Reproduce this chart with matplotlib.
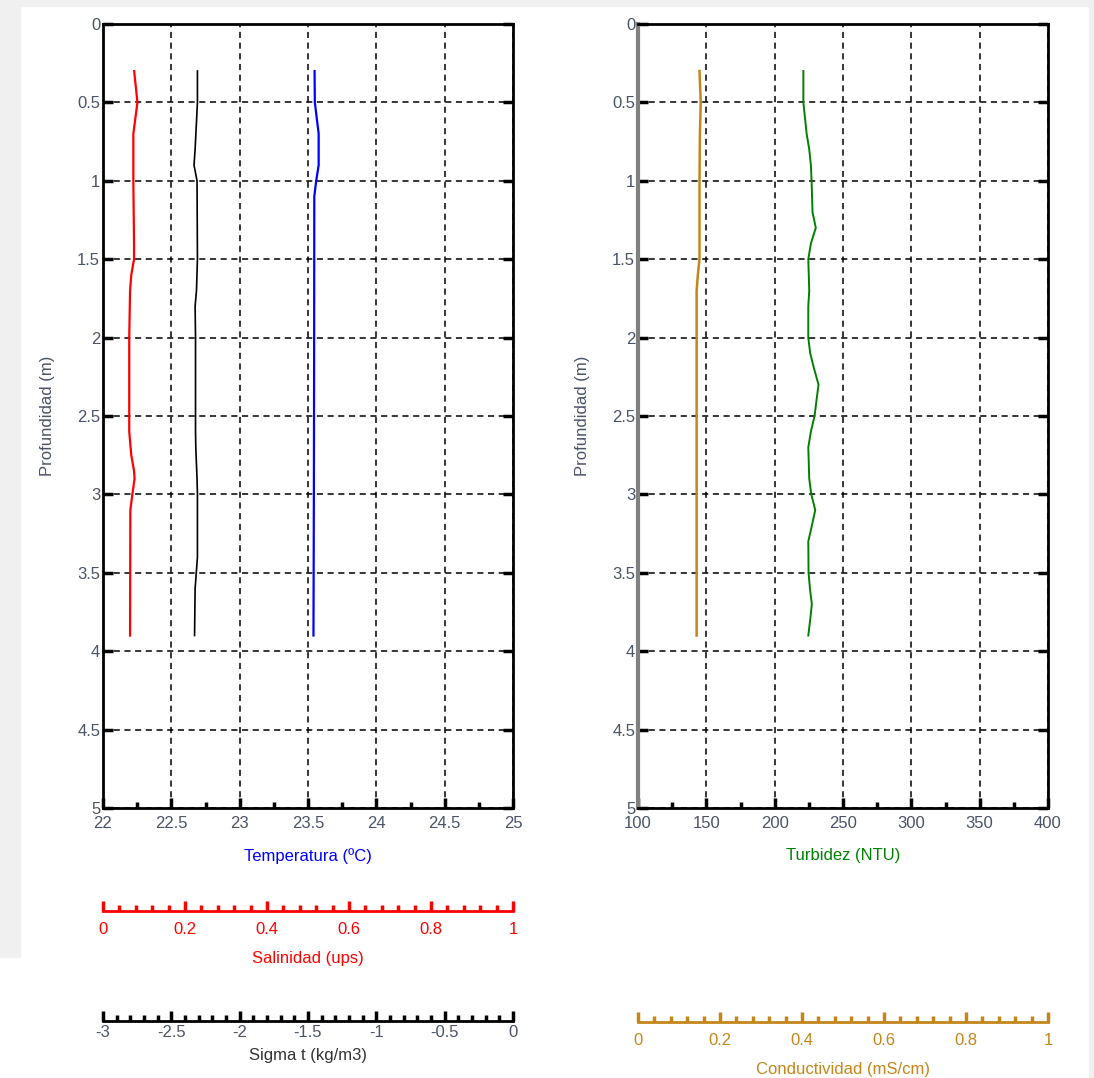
"""
Perfil vertical CTD: temperatura, salinidad, sigma t, turbidez, conductividad
"""
import matplotlib
matplotlib.use("Agg")
import matplotlib.pyplot as plt
from matplotlib.patches import Rectangle
from matplotlib.ticker import MultipleLocator

plt.rcParams['font.family'] = ['Liberation Sans', 'DejaVu Sans']
plt.rcParams['font.size'] = 12

# profundidad (m)
prof_sal = [0.30, 0.40, 0.50, 0.60, 0.70, 1.00, 1.40, 1.50, 1.60, 1.70, 2.00,
            2.60, 2.75, 2.85, 2.90, 3.00, 3.10, 3.90]
salinidad = [0.076, 0.080, 0.084, 0.079, 0.074, 0.074, 0.0757, 0.0757, 0.069, 0.066,
             0.064, 0.064, 0.069, 0.0757, 0.077, 0.0716, 0.0667, 0.066]

prof_sig = [0.30, 0.50, 0.80, 0.90, 1.00, 1.50, 1.70, 1.80, 2.00, 2.60, 2.70,
            2.90, 3.00, 3.40, 3.60, 3.90]
sigma_t = [-2.309, -2.309, -2.326, -2.334, -2.312, -2.309, -2.316, -2.326, -2.323,
           -2.323, -2.321, -2.312, -2.309, -2.309, -2.326, -2.330]

prof_temp = [0.30, 0.50, 0.70, 0.90, 1.00, 1.10, 2.00, 3.00, 3.90]
temperatura = [23.548, 23.550, 23.578, 23.578, 23.56, 23.546, 23.545, 23.543, 23.54]

prof_turb = [0.3, 0.5, 0.7, 0.8, 0.9, 1.0, 1.2, 1.3, 1.4, 1.5, 1.7, 1.8, 2.0, 2.1,
             2.2, 2.3, 2.4, 2.5, 2.6, 2.7, 2.9, 3.0, 3.1, 3.2, 3.3, 3.5, 3.6, 3.7,
             3.8, 3.9]
turbidez = [221.0, 221.0, 223.4, 225.3, 226.5, 227.0, 227.7, 230.1, 226.5, 224.6,
            225.3, 224.6, 224.6, 226.0, 228.9, 232.1, 230.6, 229.2, 226.5, 224.6,
            225.3, 226.8, 229.7, 227.2, 224.6, 224.8, 225.8, 227.2, 226.0, 224.6]

prof_cond = [0.3, 0.5, 0.7, 1.0, 1.5, 1.6, 1.7, 3.9]
conductividad = [0.150, 0.153, 0.151, 0.150, 0.150, 0.146, 0.143, 0.143]

prof_ticks = [0, 0.5, 1, 1.5, 2, 2.5, 3, 3.5, 4, 4.5, 5]
temp_ticks = [22, 22.5, 23, 23.5, 24, 24.5, 25]
turb_ticks = [100, 150, 200, 250, 300, 350, 400]
unit_ticks = [0, 0.2, 0.4, 0.6, 0.8, 1]
sig_ticks = [-3, -2.5, -2, -1.5, -1, -0.5, 0]

TICK_COL = '#4a5468'
ORANGE = '#c4861a'

fig = plt.figure(figsize=(10.94, 10.78), dpi=100)

# light grey border like the screenshot
fig.patches.append(Rectangle((0, 1 - 957 / 1078), 20 / 1094, 957 / 1078,
                             transform=fig.transFigure, color='#f0f0f0', zorder=-10))
fig.patches.append(Rectangle((0, 1 - 6 / 1078), 1, 6 / 1078,
                             transform=fig.transFigure, color='#f0f0f0', zorder=-10))
fig.patches.append(Rectangle((1 - 5 / 1094, 0), 5 / 1094, 1,
                             transform=fig.transFigure, color='#f0f0f0', zorder=-10))


def base_axes(rect, xlim, xticks, xlabel, xcolor):
    ax = fig.add_axes(rect)
    ax.set_xlim(*xlim)
    ax.set_ylim(5, 0)
    ax.set_xticks(xticks)
    ax.set_xticklabels([f"{t:g}" for t in xticks])
    ax.set_yticks(prof_ticks)
    ax.set_yticklabels([f"{t:g}" for t in prof_ticks])
    ax.xaxis.set_minor_locator(MultipleLocator((xticks[1] - xticks[0]) / 2))
    ax.tick_params(which='both', direction='in', top=True, right=True,
                   labelcolor=TICK_COL, labelsize=12)
    ax.tick_params(axis='x', pad=6)
    ax.tick_params(axis='y', pad=2)
    ax.tick_params(which='major', length=7, width=2.5)
    ax.tick_params(which='minor', length=4, width=2.5)
    ax.grid(True, color='black', linestyle=(0, (4, 3)), linewidth=1.1)
    for s in ax.spines.values():
        s.set_linewidth(2)
    ax.set_ylabel('Profundidad (m)', color=TICK_COL, labelpad=16)
    ax.set_xlabel(xlabel, color=xcolor, labelpad=12)
    return ax


def extra_axis(ax, xlim, xticks, offset, color, label, labelcolor, pad=8, labelpad=10):
    tw = ax.twiny()
    tw.set_xlim(*xlim)
    tw.set_ylim(5, 0)
    tw.xaxis.set_ticks_position('bottom')
    tw.xaxis.set_label_position('bottom')
    tw.spines['bottom'].set_position(('outward', offset))
    for side in ('top', 'left', 'right'):
        tw.spines[side].set_visible(False)
    tw.spines['bottom'].set_color(color)
    tw.spines['bottom'].set_linewidth(2)
    tw.set_xticks(xticks)
    tw.set_xticklabels([f"{t:g}" for t in xticks])
    tw.xaxis.set_minor_locator(MultipleLocator((xticks[1] - xticks[0]) / 5))
    tw.tick_params(which='both', direction='in', color=color, width=2.5,
                   labelcolor=labelcolor, labelsize=12, pad=pad)
    tw.tick_params(which='major', length=7)
    tw.tick_params(which='minor', length=4)
    tw.set_xlabel(label, color=labelcolor, labelpad=labelpad)
    return tw


# panel izquierdo
ax1 = base_axes([103 / 1094, 1 - 808 / 1078, 410 / 1094, 784 / 1078],
                (22, 25), temp_ticks, 'Temperatura (ºC)', 'blue')
ax1.plot(temperatura, prof_temp, color='blue', linewidth=1.6, zorder=5)

ax_sal = extra_axis(ax1, (0, 1), unit_ticks, 74, 'red', 'Salinidad (ups)', 'red')
ax_sal.plot(salinidad, prof_sal, color='red', linewidth=1.6, zorder=5)

ax_sig = extra_axis(ax1, (-3, 0), sig_ticks, 153, 'black', 'Sigma t (kg/m3)', '#333333',
                    pad=3, labelpad=6)
ax_sig.tick_params(labelcolor=TICK_COL)
ax_sig.plot(sigma_t, prof_sig, color='black', linewidth=1.2, zorder=5)

# panel derecho
ax2 = base_axes([638 / 1094, 1 - 808 / 1078, 410 / 1094, 784 / 1078],
                (100, 400), turb_ticks, 'Turbidez (NTU)', 'green')
ax2.spines['left'].set_color('#808080')
ax2.spines['left'].set_linewidth(3)
ax2.plot(turbidez, prof_turb, color='green', linewidth=1.4, zorder=5)

ax_cond = extra_axis(ax2, (0, 1), unit_ticks, 154, ORANGE,
                     'Conductividad (mS/cm)', ORANGE)
ax_cond.plot(conductividad, prof_cond, color=ORANGE, linewidth=1.8, zorder=5)

fig.savefig('out.png', dpi=100)
